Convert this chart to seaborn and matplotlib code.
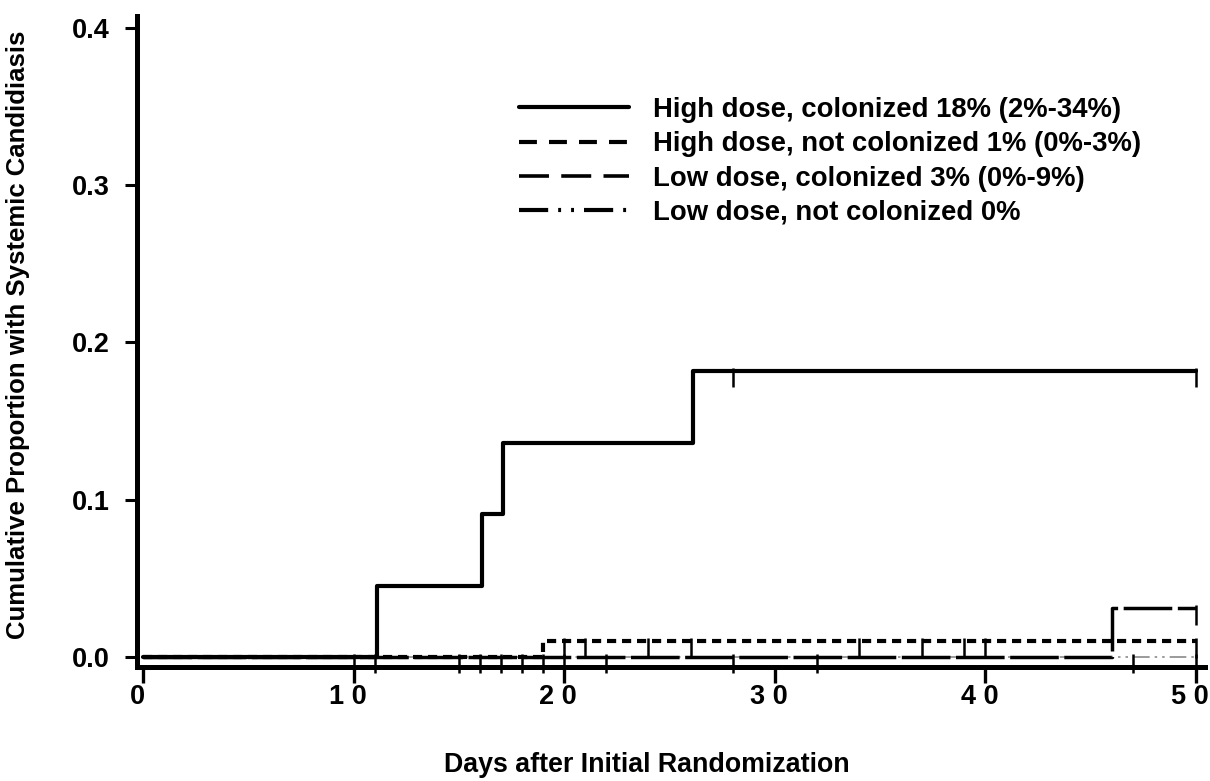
import numpy as np
import pandas as pd
import matplotlib
matplotlib.use("Agg")
import matplotlib.pyplot as plt
import matplotlib.transforms as mtransforms
from matplotlib.lines import Line2D
import seaborn as sns

# ---------------- data ----------------
labels = [
    "High dose, colonized 18% (2%-34%)",
    "High dose, not colonized 1% (0%-3%)",
    "Low dose, colonized 3% (0%-9%)",
    "Low dose, not colonized 0%",
]
# step curves (time, cumulative proportion)
hc_days = [0, 11.1, 16.1, 17.1, 26.1, 50]
hc_prop = [0, 0.045, 0.091, 0.136, 0.182, 0.182]
hnc_days = [0, 19.0, 50]
hnc_prop = [0, 0.010, 0.010]
lc_days = [0, 46.0, 50]
lc_prop = [0, 0.031, 0.031]
lnc_days = [0, 50]
lnc_prop = [0, 0]
# censoring times
hc_cens = [28, 50]
hnc_cens = [20, 21, 24, 26, 34, 37, 39, 40, 50]
lc_cens = [10, 11, 15, 16, 17, 18, 19, 20, 22, 28, 32, 50]
lnc_cens = [47, 50]

xticks = [0, 10, 20, 30, 40, 50]
xticklabels = ["0", "1 0", "2 0", "3 0", "4 0", "5 0"]
yticks = [0.0, 0.1, 0.2, 0.3, 0.4]
yticklabels = ["0.0", "0.1", "0.2", "0.3", "0.4"]

# ---------------- style ----------------
sns.set_theme(style="ticks")
plt.rcParams["font.family"] = ["Liberation Sans", "DejaVu Sans"]
plt.rcParams["font.weight"] = "bold"
plt.rcParams["text.color"] = "black"
plt.rcParams["axes.labelcolor"] = "black"
plt.rcParams["xtick.color"] = "black"
plt.rcParams["ytick.color"] = "black"

fig = plt.figure(figsize=(12.1, 7.81), dpi=100)
ax = fig.add_axes([137 / 1210, 1 - 667 / 781, (1205 - 137) / 1210, (667 - 16) / 781])

series = [
    (hc_days, hc_prop, hc_cens, dict(color="black", linewidth=3.0, linestyle="-")),
    (hnc_days, hnc_prop, hnc_cens, dict(color="black", linewidth=3.0, linestyle=(0, (2.2, 1.4)))),
    (lc_days, lc_prop, lc_cens, dict(color="black", linewidth=2.5, linestyle=(0, (14, 1.6)))),
    (lnc_days, lnc_prop, lnc_cens, dict(color="#8a8a8a", linewidth=1.2, linestyle=(0, (10, 3, 1.5, 3, 1.5, 3)))),
]

for (d, p, c, kw), lab in list(zip(series, labels))[::-1]:
    df = pd.DataFrame({"day": d, "prop": p})
    sns.lineplot(data=df, x="day", y="prop", ax=ax, drawstyle="steps-post",
                 estimator=None, errorbar=None, label=lab, zorder=3, **kw)

# censor marks
for (d, p, c, kw) in series:
    lvl = np.array([p[np.searchsorted(d, t, side="right") - 1] for t in c])
    ax.vlines(c, lvl - 0.0105, lvl + 0.002, color="black",
              linewidth=1.8, zorder=4, clip_on=False)

ax.set_xlim(-0.285, 50.43)
ax.set_ylim(-0.0064, 0.4076)

sns.despine(ax=ax)
for s in ["left", "bottom"]:
    ax.spines[s].set_linewidth(3.6)
    ax.spines[s].set_color("black")

ax.set_xticks(xticks)
ax.set_xticklabels(xticklabels)
ax.set_yticks(yticks)
ax.set_yticklabels(yticklabels)
ax.tick_params(axis="y", direction="out", length=8.6, width=2.2, pad=11, labelsize=19.5, colors="black")
ax.tick_params(axis="x", direction="out", length=11.5, width=2.4, pad=1, labelsize=19.5, colors="black")
off = mtransforms.ScaledTranslation(-6 / 100, 0, fig.dpi_scale_trans)
for t in ax.get_xticklabels():
    t.set_transform(t.get_transform() + off)
    t.set_fontweight("bold")
for t in ax.get_yticklabels():
    t.set_fontweight("bold")

ax.set_xlabel("Days after Initial Randomization", fontsize=19.3, fontweight="bold", color="black")
ax.set_ylabel("Cumulative Proportion with Systemic Candidiasis", fontsize=18.5, fontweight="bold", color="black")
ax.xaxis.label.set_va("center")
ax.yaxis.label.set_va("center")
ax.xaxis.set_label_coords((647 - 137) / 1068, -(765 - 667) / 651)
ax.yaxis.set_label_coords((18 - 137) / 1068, (667 - 335) / 651)

# legend keys drawn as in the printed key
legend_styles = [
    dict(color="black", linewidth=3.0, linestyle="-"),
    dict(color="black", linewidth=3.0, linestyle=(0, (4.3, 2.9))),
    dict(color="black", linewidth=2.6, linestyle=(0, (8.3, 3.4))),
    dict(color="black", linewidth=3.0, linestyle=(0, (7, 2.4, 0.7, 2.4, 0.7, 2.4))),
]
handles = [Line2D([], [], **st) for st in legend_styles]
ax.legend(handles, labels, loc="upper left", frameon=False,
          bbox_to_anchor=(519 / 1210, 1 - 97 / 781), bbox_transform=fig.transFigure,
          borderpad=0, borderaxespad=0, handlelength=4.0, handletextpad=0.88,
          labelspacing=0.3, prop={"size": 19.8, "weight": "bold"})

ax.grid(False)
fig.savefig("out.png", dpi=100)
